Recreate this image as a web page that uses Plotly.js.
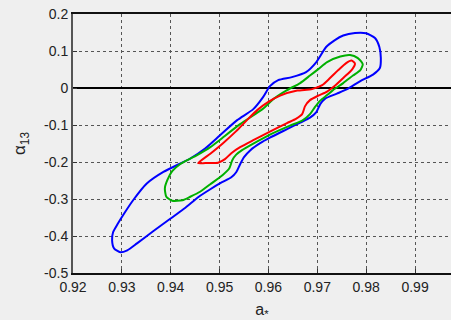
<!DOCTYPE html>
<html>
<head>
<meta charset="utf-8">
<script src="https://cdn.plot.ly/plotly-3.0.1.min.js"></script>
<style>html,body{margin:0;padding:0;background:#efefef;}#chart{width:451px;height:320px;}</style>
</head>
<body>
<div id="chart"></div>
<script>
// Contour loops (a*, alpha13)
const blueX = [0.9297,0.9284,0.9280,0.9282,0.9291,0.9305,0.9323,0.9351,0.9385,0.9440,0.9471,0.9501,0.9536,0.9569,0.9589,0.9603,0.9620,0.9648,0.9677,0.9698,0.9718,0.9736,0.9753,0.9777,0.9800,0.9818,0.9827,0.9830,0.9828,0.9814,0.9788,0.9761,0.9740,0.9716,0.9706,0.9698,0.9685,0.9665,0.9638,0.9603,0.9583,0.9563,0.9550,0.9542,0.9534,0.9524,0.9505,0.9481,0.9456,0.9430,0.9399,0.9364,0.9331,0.9311,0.9297];
const blueY = [-0.4441,-0.4333,-0.4117,-0.3900,-0.3683,-0.3386,-0.3034,-0.2582,-0.2268,-0.1905,-0.1627,-0.1275,-0.0869,-0.0571,-0.0246,0.0051,0.0214,0.0295,0.0430,0.0701,0.1107,0.1296,0.1418,0.1486,0.1478,0.1350,0.1107,0.0809,0.0539,0.0363,0.0187,-0.0030,-0.0152,-0.0287,-0.0436,-0.0652,-0.0801,-0.0936,-0.1112,-0.1342,-0.1491,-0.1681,-0.1870,-0.2060,-0.2276,-0.2411,-0.2547,-0.2736,-0.2953,-0.3237,-0.3535,-0.3873,-0.4198,-0.4387,-0.4441];

const greenX = [0.9403,0.9391,0.9388,0.9393,0.9403,0.9419,0.9454,0.9481,0.9501,0.9542,0.9589,0.9610,0.9638,0.9665,0.9685,0.9702,0.9720,0.9747,0.9767,0.9783,0.9793,0.9788,0.9773,0.9753,0.9732,0.9720,0.9706,0.9695,0.9685,0.9669,0.9644,0.9603,0.9569,0.9546,0.9534,0.9526,0.9520,0.9507,0.9481,0.9460,0.9440,0.9424,0.9403];
const greenY = [-0.3047,-0.2939,-0.2709,-0.2493,-0.2249,-0.2060,-0.1816,-0.1600,-0.1397,-0.0977,-0.0558,-0.0300,-0.0057,0.0133,0.0336,0.0511,0.0701,0.0850,0.0890,0.0809,0.0647,0.0484,0.0336,0.0133,-0.0057,-0.0192,-0.0341,-0.0517,-0.0706,-0.0882,-0.1018,-0.1261,-0.1505,-0.1681,-0.1802,-0.1951,-0.2168,-0.2344,-0.2601,-0.2804,-0.2939,-0.3034,-0.3047];

const redX = [0.9456,0.9481,0.9507,0.9534,0.9556,0.9577,0.9599,0.9624,0.9659,0.9689,0.9710,0.9726,0.9743,0.9759,0.9770,0.9777,0.9771,0.9755,0.9734,0.9720,0.9702,0.9685,0.9675,0.9669,0.9657,0.9638,0.9603,0.9569,0.9542,0.9524,0.9511,0.9497,0.9471,0.9456];
const redY = [-0.2033,-0.1775,-0.1491,-0.1166,-0.0869,-0.0598,-0.0382,-0.0206,-0.0070,-0.0030,0.0078,0.0268,0.0484,0.0674,0.0742,0.0660,0.0498,0.0295,0.0038,-0.0097,-0.0206,-0.0328,-0.0490,-0.0706,-0.0828,-0.0950,-0.1180,-0.1410,-0.1600,-0.1762,-0.1924,-0.2019,-0.2027,-0.2033];

const xTickVals = [0.92,0.93,0.94,0.95,0.96,0.97,0.98,0.99];
const xTickText = ['0.92','0.93','0.94','0.95','0.96','0.97','0.98','0.99'];
const yTickVals = [-0.5,-0.4,-0.3,-0.2,-0.1,0,0.1,0.2];
const yTickText = ['-0.5','-0.4','-0.3','-0.2','-0.1','0','0.1','0.2'];

const mk = (x, y, color) => ({
  x: x, y: y, type: 'scatter', mode: 'lines',
  line: {color: color, width: 2, shape: 'spline', smoothing: 0.6},
  hoverinfo: 'skip', showlegend: false
});

const data = [mk(blueX, blueY, '#0000ff'), mk(greenX, greenY, '#00b000'), mk(redX, redY, '#ff0000')];

const font = {family: 'Liberation Sans, Arial, sans-serif', size: 14, color: '#222'};

const layout = {
  width: 451, height: 320,
  margin: {l: 73, r: 0, t: 14, b: 47},
  paper_bgcolor: '#efefef', plot_bgcolor: '#efefef',
  font: font,
  showlegend: false,
  xaxis: {
    range: [0.92, 0.99736], tickvals: xTickVals, ticktext: xTickText,
    showgrid: true, gridcolor: '#555', griddash: 'dot', gridwidth: 1,
    zeroline: false, showline: true, linecolor: '#111', linewidth: 2, mirror: true,
    ticks: 'inside', ticklen: 4, tickcolor: '#333',
    tickfont: font,
    title: {text: 'a<sub>*</sub>', font: {family: 'Liberation Sans, Arial, sans-serif', size: 16, color: '#222'}, standoff: 12}
  },
  yaxis: {
    range: [-0.5, 0.2], tickvals: yTickVals, ticktext: yTickText,
    showgrid: true, gridcolor: '#555', griddash: 'dot', gridwidth: 1,
    zeroline: true, zerolinecolor: '#000', zerolinewidth: 2.5,
    showline: true, linecolor: '#555', linewidth: 2,
    ticks: 'inside', ticklen: 4, tickcolor: '#333',
    tickfont: font,
    title: {text: 'α<sub>13</sub>', font: {family: 'Liberation Sans, Arial, sans-serif', size: 17, color: '#222'}, standoff: 14}
  }
};

Plotly.newPlot('chart', data, layout, {displayModeBar: false, staticPlot: true});
</script>
</body>
</html>
